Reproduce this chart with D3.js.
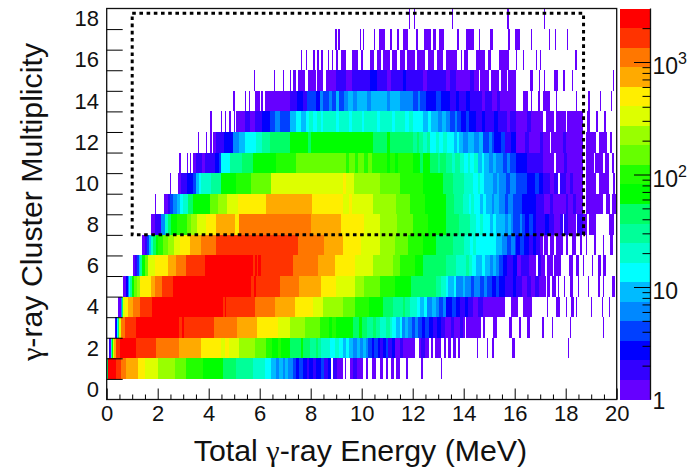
<!DOCTYPE html>
<html>
<head>
<meta charset="utf-8">
<script src="https://cdn.jsdelivr.net/npm/d3@7"></script>
<style>
  html, body { margin: 0; background: #fff; }
  svg { display: block; }
  text { font-family: "Liberation Sans", sans-serif; fill: #111; }
</style>
</head>
<body>
<div id="chart"></div>
<script>
const width = 698
    , height = 468
    ;

// each run is [start energy in MeV, counts]; a run lasts until the next one, 0 is an empty bin
const mult1 = [[0,45],[.07,2500],[.38,1650],[.58,1100],[.77,750],[1.23,500],[1.49,330],[2,225],[2.67,150],[3.12,100],[3.78,67],[4.56,45],[5.08,30],[5.74,20],[6.2,13],[6.46,9],[6.62,6],[6.75,9],[6.91,6],[7,9],[7.1,6],[7.3,4],[7.42,3],[7.56,4],[7.7,3],[7.85,2],[7.95,3],[8.1,2],[8.22,3],[8.4,4],[8.54,2],[8.68,3],[8.81,0],[8.87,2],[9.05,1],[9.26,0],[9.33,1],[9.4,0],[9.53,1],[9.66,2],[9.8,1],[10.05,0],[10.18,1],[10.25,0],[10.4,1],[10.57,0],[10.7,1],[10.83,0],[10.95,1],[11.03,0],[11.16,1],[11.25,0],[11.36,1],[11.5,0],[11.72,1],[11.81,0],[12.33,1],[12.39,0],[13.1,1],[13.15,0]];
const mult2 = [[.08,2],[.12,1],[.15,6],[.18,20],[.21,67],[.25,330],[.28,750],[.35,1650],[.54,2500],[1.14,1650],[1.95,1100],[2.84,750],[3.71,500],[4.5,330],[4.65,500],[4.8,330],[5.2,225],[5.8,150],[6.26,100],[6.5,67],[6.7,100],[6.85,67],[7.17,45],[7.6,67],[7.7,45],[7.96,30],[8.2,45],[8.3,30],[8.4,20],[8.74,13],[8.94,20],[9.1,13],[9.25,9],[9.4,13],[9.5,9],[9.66,6],[9.8,9],[9.93,6],[10.05,9],[10.15,6],[10.25,4],[10.4,3],[10.5,4],[10.62,3],[10.7,2],[10.85,3],[10.95,4],[11.05,2],[11.2,3],[11.3,1],[11.49,2],[11.6,1],[12.1,0],[12.24,1],[12.34,2],[12.5,1],[12.64,0],[12.72,1],[12.8,0],[12.88,1],[13.12,0],[13.24,1],[13.31,0],[13.38,1],[13.5,0],[13.58,1],[13.68,0],[13.78,1],[13.85,0],[14.52,1],[14.56,0],[14.91,1],[14.96,0],[15.12,1],[15.17,0],[15.9,1],[16.02,0],[18.08,1],[18.12,0]];
const mult3 = [[.33,2],[.38,3],[.42,13],[.46,45],[.5,330],[.58,1100],[.7,1650],[1.14,2500],[2.85,1650],[2.95,2500],[3.05,1650],[4.2,1100],[5.1,750],[5.9,500],[6.7,330],[7.17,225],[7.76,150],[8.35,100],[8.7,67],[8.85,100],[9,67],[9.66,45],[9.9,67],[10,45],[10.2,30],[10.45,45],[10.55,30],[10.7,20],[10.95,30],[11.1,20],[11.2,13],[11.36,9],[11.5,13],[11.58,6],[11.7,9],[11.8,6],[11.98,4],[12.1,6],[12.2,4],[12.35,3],[12.5,4],[12.62,3],[12.8,2],[12.95,3],[13.1,2],[13.25,1],[13.5,2],[13.62,1],[13.85,2],[13.97,1],[14.05,0],[14.1,1],[14.69,0],[14.75,1],[14.85,0],[15.15,1],[15.3,0],[15.77,1],[15.89,0],[16.17,1],[16.26,0],[16.48,1],[16.61,0],[17.08,1],[17.13,0],[17.45,1],[17.52,0],[18.15,1],[18.19,0],[19.46,1],[19.52,0]];
const mult4 = [[.44,1],[.55,6],[.59,45],[.62,330],[.7,500],[.85,750],[1.03,1100],[1.3,1650],[1.79,2500],[4.56,1650],[4.62,2500],[4.69,1650],[5.8,1100],[6.59,750],[7.37,500],[8.09,330],[8.48,225],[9.26,150],[9.72,100],[10.3,67],[10.83,45],[11.22,30],[11.6,45],[11.7,30],[11.88,20],[12.15,13],[12.27,9],[12.45,13],[12.55,6],[12.75,9],[12.9,6],[13.05,4],[13.2,6],[13.3,3],[13.55,4],[13.7,3],[13.85,2],[14.05,3],[14.15,2],[14.35,1],[14.55,2],[14.75,1],[15.6,0],[15.87,1],[16.13,0],[16.32,1],[16.69,0],[17.26,1],[17.31,0],[17.63,1],[17.76,0],[18,1],[18.05,0],[18.22,1],[18.31,0],[18.42,1],[18.46,0],[19,1],[19.04,0],[19.42,1],[19.46,0],[19.7,1],[19.75,0]];
const mult5 = [[.65,1],[.75,3],[.82,6],[.88,13],[.93,30],[1,67],[1.08,150],[1.2,225],[1.3,500],[1.75,750],[1.9,1100],[2.18,1650],[2.6,2500],[5.65,1650],[5.78,2500],[5.85,1650],[6.78,1100],[7.56,750],[8.41,500],[9,330],[9.72,225],[10.1,150],[10.7,100],[11.29,67],[11.94,45],[12.92,30],[13.1,20],[13.3,13],[13.4,9],[13.6,13],[13.7,6],[13.97,9],[14.05,6],[14.3,4],[14.4,6],[14.62,4],[14.8,6],[14.9,4],[15.1,3],[15.28,4],[15.38,3],[15.6,2],[15.93,3],[16.05,2],[16.3,1],[16.5,2],[16.62,1],[16.8,2],[16.95,1],[17.24,0],[17.28,1],[17.4,0],[17.47,1],[17.6,0],[17.68,1],[17.75,0],[17.92,1],[17.98,0],[18.15,1],[18.3,0],[18.48,1],[18.53,0],[18.87,1],[18.92,0],[19.27,1],[19.33,0],[19.46,1],[19.5,0],[19.8,1],[19.93,0]];
const mult6 = [[1.02,1],[1.1,2],[1.18,4],[1.25,9],[1.32,30],[1.4,67],[1.5,150],[1.6,330],[1.88,500],[2.4,750],[2.7,1100],[3.1,1650],[3.84,2500],[5.74,1650],[5.8,2500],[5.9,1650],[5.95,2500],[6.05,1650],[7.3,1100],[8.28,750],[8.94,500],[9.72,330],[10.44,225],[11.22,150],[11.5,100],[12.1,67],[12.4,45],[13.3,30],[13.7,20],[14.1,30],[14.2,20],[14.32,13],[14.49,9],[14.7,13],[14.85,9],[15.05,6],[15.15,9],[15.28,6],[15.4,4],[15.54,3],[15.7,2],[15.95,3],[16.1,1],[16.25,2],[16.55,1],[16.85,0],[16.92,2],[17.02,1],[17.18,0],[17.26,1],[17.5,0],[17.56,1],[17.82,0],[18.14,1],[18.3,0],[18.42,1],[18.52,0],[18.66,1],[18.72,0],[19.02,1],[19.06,0],[19.27,1],[19.4,0],[19.46,1],[19.58,0]];
const mult7 = [[1.37,1],[1.49,2],[1.58,4],[1.66,9],[1.74,20],[1.82,45],[1.92,67],[2.01,100],[2.2,150],[2.4,225],[2.65,330],[2.86,500],[3.25,750],[3.69,1100],[4.3,1650],[7.5,1100],[8.54,750],[9.26,500],[9.98,330],[10.7,225],[11.29,150],[11.8,100],[12.4,67],[12.92,45],[13.58,30],[14,20],[14.25,13],[14.35,20],[14.49,13],[15.28,9],[15.5,6],[15.7,4],[15.85,6],[16,4],[16.06,3],[16.2,4],[16.35,3],[16.55,2],[16.72,3],[16.85,2],[16.98,1],[17.1,0],[17.15,1],[17.3,0],[17.38,1],[17.55,0],[17.62,1],[17.9,0],[18,1],[18.1,0],[18.25,1],[18.42,0],[18.55,1],[18.65,0],[18.78,1],[18.85,0],[19.1,1],[19.2,0],[19.45,1],[19.5,0],[19.72,1],[19.85,0]];
const mult8 = [[1.73,1],[1.88,2],[2.14,6],[2.27,20],[2.4,45],[2.54,67],[2.74,100],[3.15,150],[3.32,225],[3.54,330],[3.91,500],[4.3,750],[5.02,500],[5.18,1100],[8.02,750],[9.2,500],[10.1,330],[10.7,225],[11.4,150],[12,100],[12.6,67],[13.3,45],[13.8,30],[14.23,20],[14.5,13],[14.62,20],[14.75,13],[15.05,9],[15.15,13],[15.28,9],[15.6,6],[15.75,9],[15.85,6],[15.93,4],[16.2,6],[16.3,4],[16.4,3],[16.55,4],[16.7,3],[16.85,2],[17.2,3],[17.35,2],[17.55,1],[17.76,2],[17.9,0],[17.95,2],[18.1,1],[18.4,0],[18.46,2],[18.67,1],[18.85,0],[18.92,1],[19.2,0],[19.68,1],[19.9,0]];
const mult9 = [[1.9,1],[1.95,0],[2.23,1],[2.4,2],[2.5,4],[2.6,6],[2.75,9],[2.87,13],[3,20],[3.2,45],[3.39,67],[4.04,150],[4.35,225],[4.7,330],[5.15,500],[6.26,750],[8.05,500],[9.26,330],[9.5,500],[9.6,330],[10.44,225],[11.35,150],[11.9,100],[12.5,67],[13.3,45],[13.6,30],[13.97,20],[14.2,13],[14.3,20],[14.4,13],[14.65,9],[14.75,13],[14.88,9],[15.1,6],[15.2,9],[15.4,6],[15.6,4],[15.72,6],[15.93,4],[16.3,3],[16.85,2],[17.15,1],[17.4,2],[17.5,1],[18,2],[18.1,1],[18.3,2],[18.4,1],[18.67,0],[18.8,1],[19.46,0],[19.58,1],[19.72,0],[19.83,1],[20,0]];
const mult10 = [[2.49,1],[2.54,0],[2.8,1],[2.93,2],[3.15,3],[3.39,4],[3.5,9],[3.6,13],[3.71,20],[4.1,30],[4.5,67],[5.08,100],[5.67,150],[6.46,330],[9.26,500],[9.4,330],[9.7,225],[10.7,150],[11.5,100],[12.4,67],[13.18,45],[13.58,30],[14,20],[14.36,13],[14.55,20],[14.65,13],[14.8,9],[15.15,6],[15.3,9],[15.4,6],[15.65,4],[15.8,6],[16.06,4],[16.5,3],[16.8,4],[16.95,3],[17.1,2],[17.4,1],[17.55,2],[17.7,0],[17.76,2],[18,1],[18.15,2],[18.3,1],[18.67,0],[18.8,1],[19.2,0],[19.3,1],[19.68,0],[19.85,1],[19.95,0]];
const mult11 = [[2.84,1],[2.9,0],[3.13,1],[3.17,0],[3.25,1],[3.31,0],[3.39,1],[3.52,2],[3.75,1],[3.85,2],[4.23,3],[4.4,4],[4.5,13],[4.82,30],[5.3,45],[5.74,67],[6.65,100],[7.44,150],[9.4,100],[9.5,150],[9.75,100],[9.85,150],[10.1,100],[10.25,150],[10.4,100],[11,67],[11.12,100],[11.3,67],[11.42,100],[12,67],[12.3,45],[12.4,67],[12.66,45],[13,30],[13.08,45],[13.3,30],[13.55,20],[13.65,30],[13.84,20],[14,13],[14.15,20],[14.25,13],[14.4,20],[14.55,9],[14.7,13],[14.8,9],[15,6],[15.15,9],[15.25,6],[15.55,4],[15.7,6],[15.8,4],[16.06,3],[16.5,2],[17.1,1],[17.55,0],[17.6,1],[17.95,2],[18.05,1],[18.67,0],[18.8,1],[19.1,0],[19.15,1],[19.45,0],[19.55,1],[19.7,0],[19.83,1],[19.9,0]];
const mult12 = [[3.58,1],[3.63,0],[3.9,1],[3.95,0],[4.05,1],[4.12,0],[4.17,1],[4.3,2],[4.6,3],[4.95,6],[5.2,9],[5.41,13],[5.87,20],[6.1,30],[6.39,45],[7.18,67],[7.9,45],[8,67],[10.44,45],[11,67],[11.1,45],[12,30],[12.15,45],[12.25,30],[12.4,20],[12.55,30],[12.66,13],[12.9,20],[13.05,13],[13.2,20],[13.35,13],[13.6,9],[13.72,13],[13.82,9],[13.97,6],[14.15,9],[14.3,9],[14.42,6],[14.6,9],[14.75,4],[15,6],[15.1,4],[15.2,3],[15.45,4],[15.6,2],[15.85,3],[16.06,1],[16.4,2],[16.55,1],[17,2],[17.1,1],[17.37,0],[17.43,1],[17.9,2],[18,1],[18.67,0],[18.8,1],[19.2,0],[19.32,1],[19.6,0],[19.72,1],[19.8,0]];
const mult13 = [[4.07,1],[4.12,0],[4.47,1],[4.53,0],[4.63,1],[4.69,0],[4.78,1],[4.88,0],[4.98,1],[5.04,0],[5.08,1],[5.41,2],[5.6,1],[5.8,2],[6.1,3],[6.39,4],[6.6,6],[6.8,4],[7.18,9],[7.44,13],[7.6,9],[7.8,13],[7.95,20],[8.1,13],[8.25,20],[8.4,13],[8.5,20],[9,13],[9.1,20],[9.5,13],[9.6,20],[10,13],[10.1,20],[10.6,13],[10.7,20],[11.2,13],[11.3,20],[11.7,13],[11.85,20],[12,13],[12.4,9],[12.6,13],[12.7,9],[13,6],[13.15,9],[13.3,6],[13.45,4],[13.65,6],[13.75,4],[13.9,3],[14.1,4],[14.2,3],[14.49,2],[14.7,3],[14.85,2],[15.2,3],[15.35,2],[15.7,1],[15.8,2],[16.06,1],[16.5,2],[16.65,1],[17.1,0],[17.24,1],[17.55,0],[17.6,1],[18,0],[18.06,1],[18.67,0],[18.82,1],[18.95,0],[19.2,1],[19.26,0],[19.52,1],[19.58,0]];
const mult14 = [[4.97,1],[5.02,0],[5.41,1],[5.46,0],[5.58,1],[5.63,0],[5.8,1],[6,0],[6.04,1],[6.13,0],[6.2,1],[7.18,2],[7.45,3],[7.7,2],[7.85,4],[8.2,3],[8.35,6],[8.5,4],[8.7,6],[8.85,4],[9,9],[9.1,4],[9.3,6],[9.45,9],[9.66,6],[9.8,9],[10.2,6],[10.35,9],[11,6],[11.1,9],[11.5,6],[12,4],[12.2,6],[12.3,4],[12.53,3],[12.9,4],[13.1,3],[13.45,2],[13.7,3],[13.8,2],[14.1,3],[14.25,2],[14.7,1],[14.85,2],[15.1,1],[15.3,2],[15.41,1],[16.06,0],[16.33,1],[16.52,0],[16.65,1],[16.69,0],[16.9,1],[17,0],[17.11,1],[17.37,0],[17.63,1],[17.66,0],[18.4,1],[18.44,0],[18.87,1],[18.94,0],[19.34,1],[19.38,0],[19.79,1],[19.83,0]];
const mult15 = [[5.78,1],[5.83,0],[6.55,1],[6.6,0],[6.9,1],[6.95,0],[7.18,1],[7.24,0],[7.32,1],[7.42,0],[7.5,1],[7.76,0],[7.9,1],[8.2,0],[8.26,1],[8.48,0],[8.6,1],[9,2],[9.4,1],[9.6,2],[10.31,3],[10.6,2],[11,1],[11.15,2],[11.6,3],[11.75,2],[12.4,1],[12.55,2],[13.3,1],[13.45,2],[13.7,1],[14.23,2],[14.4,1],[14.6,0],[14.65,1],[15,0],[15.06,1],[15.4,0],[15.46,1],[15.7,0],[15.74,1],[16.06,0],[16.6,1],[16.72,0],[16.95,1],[17,0],[17.14,1],[17.17,0],[17.53,1],[17.7,0],[17.9,1],[17.96,0],[18.23,1],[18.27,0],[19.85,1],[19.9,0]];
const mult16 = [[7.6,1],[7.65,0],[7.81,1],[7.85,0],[8.1,1],[8.16,0],[8.25,1],[8.32,0],[8.4,1],[8.5,0],[8.67,1],[8.71,0],[8.83,1],[8.87,0],[8.98,1],[9.07,0],[9.2,1],[9.4,0],[9.62,1],[9.86,0],[9.98,1],[10.05,0],[10.31,1],[10.5,0],[10.6,1],[10.75,0],[10.82,1],[11.1,0],[11.2,1],[11.4,0],[11.5,1],[11.7,0],[11.78,1],[12.1,0],[12.18,1],[12.5,0],[12.6,1],[12.85,0],[12.95,1],[13.2,0],[13.3,1],[13.75,0],[13.88,1],[13.95,0],[14,1],[14.17,0],[14.5,1],[14.82,0],[14.95,1],[15.08,0],[15.37,1],[15.78,0],[16.06,1],[16.1,0],[16.33,1],[16.37,0],[16.85,1],[16.89,0],[17,1],[17.04,0],[18.38,1],[18.45,0],[19.97,1],[20,0]];
const mult17 = [[8.97,1],[9.02,0],[9.09,1],[9.14,0],[9.95,1],[9.99,0],[10.04,1],[10.08,0],[10.47,1],[10.52,0],[10.68,1],[10.9,0],[11.12,1],[11.17,0],[11.4,1],[11.46,0],[11.62,1],[11.82,0],[12.14,1],[12.22,0],[12.43,1],[12.72,0],[12.8,1],[12.93,0],[13.03,1],[13.22,0],[13.72,1],[13.8,0],[14.1,1],[14.4,0],[14.6,1],[14.65,0],[15.02,1],[15.15,0],[15.74,1],[15.8,0],[16.02,1],[16.22,0],[16.62,1],[16.69,0],[17.35,1],[17.4,0],[17.58,1],[17.63,0],[18.05,1],[18.1,0]];
const mult18 = [[11.85,1],[11.9,0],[12.05,1],[12.1,0],[13.53,1],[13.58,0],[15.68,1],[15.76,0],[17.13,1],[17.18,0]];

const histRows = [[], mult1, mult2, mult3, mult4, mult5, mult6, mult7, mult8, mult9, mult10, mult11, mult12, mult13, mult14, mult15, mult16, mult17, mult18];

const xTicks = [0, 2, 4, 6, 8, 10, 12, 14, 16, 18, 20]
    , xMinorTicks = d3.range(0, 20.01, 0.5)
    , multTicks = [0, 2, 4, 6, 8, 10, 12, 14, 16, 18]
    , zDecades = [1, 10, 100, 1000]
    , zMinorTicks = [2, 3, 4, 5, 6, 7, 8, 9, 20, 30, 40, 50, 60, 70, 80, 90, 200, 300, 400, 500, 600, 700, 800, 900, 2000]
    , zMax = 2990
    ;

// root palette 1 bands, low to high
const palette = ['#6600ff', '#3300ff', '#0000ff', '#0040ff', '#0088ff', '#00bbff', '#00ffff', '#00ffcc', '#00ff99', '#00ff66', '#00ff00', '#22ff00', '#66ff00', '#99ff00', '#ddff00', '#ffee00', '#ffaa00', '#ff7700', '#ff3300', '#ff0000'];

// rectangle drawn round the selected events: energy range and multiplicity range
const boxEnergy = [1, 18.7]
    , boxMult = [8, 18.77]
    ;

const x = d3.scaleLinear().domain([0, 20]).range([106.7, 616.7]);
const y = d3.scaleLinear().domain([0, 19]).range([399.5, 8.5]);
const z = d3.scaleLog().domain([1, zMax]).range([399.5, 8.5]);

const bandEdges = palette.map((c, i) => Math.pow(zMax, i / palette.length));
const color = d3.scaleThreshold().domain(bandEdges.slice(1)).range(palette);

const svg = d3.select('#chart')
  .append('svg')
  .attr('width', width)
  .attr('height', height)
  ;

// flatten the runs into one list of cells
const cells = histRows.flatMap((runs, m) => runs.map((r, i) => ({
    m: m
  , e0: r[0]
  , e1: i < runs.length - 1 ? runs[i + 1][0] : r[0]
  , n: r[1]
}))).filter(d => d.n > 0);

svg.append('g')
  .attr('shape-rendering', 'crispEdges')
  .selectAll('rect')
  .data(cells)
  .join('rect')
    .attr('x', d => x(d.e0))
    .attr('y', d => y(d.m + 1))
    .attr('width', d => Math.max(1, x(d.e1) - x(d.e0)))
    .attr('height', d => y(d.m) - y(d.m + 1))
    .attr('fill', d => color(d.n))
    ;

// dotted selection box
svg.append('rect')
  .attr('x', x(boxEnergy[0]))
  .attr('y', y(boxMult[1]))
  .attr('width', x(boxEnergy[1]) - x(boxEnergy[0]))
  .attr('height', y(boxMult[0]) - y(boxMult[1]))
  .attr('fill', 'none')
  .attr('stroke', '#000')
  .attr('stroke-width', 3)
  .attr('stroke-dasharray', '3.6 3.6')
  ;

// frame
svg.append('rect')
  .attr('x', x(0))
  .attr('y', y(19))
  .attr('width', x(20) - x(0))
  .attr('height', y(0) - y(19))
  .attr('fill', 'none')
  .attr('stroke', '#111')
  .attr('stroke-width', 1.3)
  ;

// x axis, ticks point into the plot
const xAxis = svg.append('g')
  .attr('transform', `translate(0,${y(0)})`)
  .call(d3.axisBottom(x).tickValues(xTicks).tickSize(-11).tickPadding(0).tickFormat(d3.format('d')))
  ;
xAxis.select('.domain').remove();
xAxis.selectAll('text')
  .attr('y', 21.5)
  .attr('dy', 0)
  .style('font-size', '22px')
  ;

svg.append('g')
  .attr('transform', `translate(0,${y(0)})`)
  .call(d3.axisBottom(x).tickValues(xMinorTicks.filter(d => !xTicks.includes(d))).tickSize(-5).tickFormat(''))
  .call(g => g.select('.domain').remove())
  ;

// y ticks sit on the bin edges, the labels in the bin centres
const yAxis = svg.append('g')
  .attr('transform', `translate(${x(0)},0)`)
  .call(d3.axisLeft(y).tickValues(d3.range(1, 19)).tickSize(-16).tickFormat(''))
  ;
yAxis.select('.domain').remove();

svg.append('g')
  .selectAll('text')
  .data(multTicks)
  .join('text')
    .attr('x', 99)
    .attr('y', d => y(d + 0.5) + 7.5)
    .attr('text-anchor', 'end')
    .style('font-size', '22px')
    .text(d => d)
    ;

// colour bar
svg.append('g')
  .attr('shape-rendering', 'crispEdges')
  .selectAll('rect')
  .data(palette)
  .join('rect')
    .attr('x', 619.5)
    .attr('y', (d, i) => z(i + 1 < palette.length ? bandEdges[i + 1] : zMax))
    .attr('width', 31)
    .attr('height', (d, i) => z(bandEdges[i]) - z(i + 1 < palette.length ? bandEdges[i + 1] : zMax))
    .attr('fill', d => d)
    ;

svg.append('line')
  .attr('x1', 650.5).attr('x2', 650.5)
  .attr('y1', z(zMax)).attr('y2', z(1))
  .attr('stroke', '#111')
  .attr('stroke-width', 1.3)
  ;

const zAxis = svg.append('g')
  .attr('transform', 'translate(650.5,0)')
  ;
zAxis.call(d3.axisLeft(z).tickValues(zDecades.slice(1)).tickSize(16.5).tickFormat(''))
  .call(g => g.select('.domain').remove())
  ;
zAxis.append('g')
  .call(d3.axisLeft(z).tickValues(zMinorTicks).tickSize(8).tickFormat(''))
  .call(g => g.select('.domain').remove())
  ;

const zLabels = svg.append('g')
  .selectAll('text')
  .data(zDecades)
  .join('text')
    .attr('x', 652.5)
    .attr('y', d => z(d) + (d === 1 ? 9 : 12))
    .style('font-size', '23px')
    ;
zLabels.append('tspan').text(d => d >= 100 ? '10' : d);
zLabels.filter(d => d >= 100)
  .append('tspan')
    .attr('dy', -10)
    .style('font-size', '16px')
    .text(d => Math.log10(d))
    ;

// titles, the gamma comes from a serif face like the original's symbol font
function gammaTitle(sel, rest) {
  sel.append('tspan').text(rest[0]);
  sel.append('tspan').style('font-family', '"Liberation Serif", serif').text('γ');
  sel.append('tspan').text(rest[1]);
}

svg.append('text')
  .attr('x', 360.5)
  .attr('y', 461.3)
  .attr('text-anchor', 'middle')
  .style('font-size', '30.3px')
  .call(gammaTitle, ['Total ', '-ray Energy (MeV)'])
  ;

svg.append('text')
  .attr('transform', 'translate(42,202) rotate(-90)')
  .attr('text-anchor', 'middle')
  .style('font-size', '30.3px')
  .call(gammaTitle, ['', '-ray Cluster Multiplicity'])
  ;
</script>
</body>
</html>
